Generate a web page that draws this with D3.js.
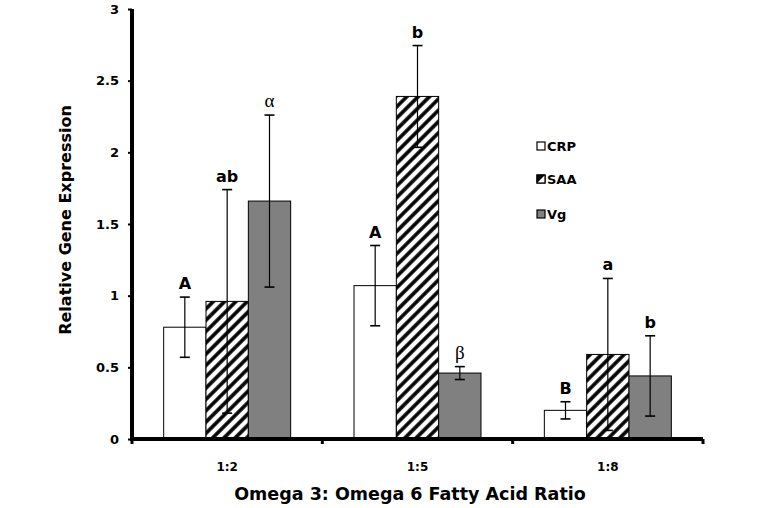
<!DOCTYPE html>
<html><head><meta charset="utf-8">
<script src="https://cdn.jsdelivr.net/npm/d3@7"></script>
<style>body{margin:0;background:#fff}svg{display:block}</style>
</head><body>
<script>
const categories = ["1:2", "1:5", "1:8"];
const seriesNames = ["CRP", "SAA", "Vg"];
const crp = [0.78, 1.07, 0.20];
const saa = [0.96, 2.39, 0.59];
const vg = [1.66, 0.46, 0.44];
const crpErr = [0.21, 0.28, 0.06];
const saaErr = [0.78, 0.355, 0.53];
const vgErr = [0.60, 0.045, 0.28];
const crpLetters = ["A", "A", "B"];
const saaLetters = ["ab", "b", "a"];
const vgLetters = ["α", "β", "b"];
const yTicks = [0, 0.5, 1, 1.5, 2, 2.5, 3];

(function () {
const W = 763, H = 508;
const svg = d3.select("body").append("svg").attr("width", W).attr("height", H);
const defs = svg.append("defs");
const pat = defs.append("pattern").attr("id", "hatch").attr("patternUnits", "userSpaceOnUse")
  .attr("width", 8).attr("height", 8).attr("patternTransform", "rotate(45)");
pat.append("rect").attr("width", 8).attr("height", 8).attr("fill", "#fff");
pat.append("line").attr("x1", 4).attr("y1", 0).attr("x2", 4).attr("y2", 8)
  .attr("stroke", "#000").attr("stroke-width", 3.6);

const mLeft = 132, mRight = 703, mTop = 9, mBottom = 439;
const x = d3.scaleBand().domain(categories).range([mLeft, mRight]).paddingInner(0).paddingOuter(0);
const groupW = 127;
const xs = d3.scaleBand().domain(seriesNames).range([0, groupW]);
const y = d3.scaleLinear().domain([0, 3]).range([mBottom, mTop]);

const fills = {CRP: "#fff", SAA: "url(#hatch)", Vg: "#808080"};
const vals = {CRP: crp, SAA: saa, Vg: vg};
const errs = {CRP: crpErr, SAA: saaErr, Vg: vgErr};
const letters = {CRP: crpLetters, SAA: saaLetters, Vg: vgLetters};

const data = [];
categories.forEach((c, i) => seriesNames.forEach(s => data.push({c, s, v: vals[s][i], e: errs[s][i], l: letters[s][i]})));

const gx = c => x(c) + (x.bandwidth() - groupW) / 2;

svg.selectAll("rect.bar").data(data).enter().append("rect").attr("class", "bar")
  .attr("x", d => gx(d.c) + xs(d.s)).attr("width", xs.bandwidth())
  .attr("y", d => y(d.v)).attr("height", d => y(0) - y(d.v))
  .attr("fill", d => fills[d.s]).attr("stroke", "#000").attr("stroke-width", 1);

const eb = svg.selectAll("g.err").data(data).enter().append("g").attr("class", "err")
  .attr("transform", d => `translate(${gx(d.c) + xs(d.s) + xs.bandwidth() / 2},0)`);
eb.append("line").attr("y1", d => y(d.v + d.e)).attr("y2", d => y(d.v - d.e)).attr("stroke", "#000").attr("stroke-width", 1.2);
eb.append("line").attr("x1", -5).attr("x2", 5).attr("y1", d => y(d.v + d.e)).attr("y2", d => y(d.v + d.e)).attr("stroke", "#000").attr("stroke-width", 1.6);
eb.append("line").attr("x1", -5).attr("x2", 5).attr("y1", d => y(d.v - d.e)).attr("y2", d => y(d.v - d.e)).attr("stroke", "#000").attr("stroke-width", 1.6);
eb.append("text").attr("y", d => y(d.v + d.e) - 8).attr("text-anchor", "middle")
  .attr("font-family", d => (d.l === "α" || d.l === "β") ? "Liberation Serif, serif" : "DejaVu Sans, Verdana, sans-serif")
  .attr("font-weight", d => (d.l === "α" || d.l === "β") ? "normal" : "bold")
  .attr("font-size", d => (d.l === "α" || d.l === "β") ? 19 : 16)
  .text(d => d.l);

// axes
const yAxis = svg.append("g").attr("transform", `translate(${mLeft},0)`)
  .call(d3.axisLeft(y).tickValues(yTicks).tickSize(4).tickPadding(9).tickFormat(d => d));
yAxis.select(".domain").attr("stroke-width", 4).attr("d", `M0,${mTop}V${mBottom + 2}`);
yAxis.selectAll(".tick line").attr("stroke-width", 2);
yAxis.selectAll("text").attr("font-family", "DejaVu Sans, Verdana, sans-serif").attr("font-weight", "bold").attr("font-size", 13);

const xAxis = svg.append("g").attr("transform", `translate(0,${mBottom})`)
  .call(d3.axisBottom(x).tickSize(0).tickPadding(23));
xAxis.select(".domain").attr("stroke-width", 4).attr("d", `M${mLeft},0H${mRight}`);
xAxis.selectAll("text").attr("font-family", "DejaVu Sans, Verdana, sans-serif").attr("font-weight", "bold").attr("font-size", 12);
const bounds = [mLeft, ...categories.map(c => x(c) + x.bandwidth())];
svg.append("g").selectAll("line").data(bounds).enter().append("line")
  .attr("x1", d => d).attr("x2", d => d).attr("y1", mBottom).attr("y2", mBottom + 5)
  .attr("stroke", "#000").attr("stroke-width", 3);

// titles
svg.append("text").attr("transform", "translate(71,220) rotate(-90)").attr("text-anchor", "middle")
  .attr("font-family", "DejaVu Sans, Verdana, sans-serif").attr("font-weight", "bold").attr("font-size", 16)
  .text("Relative Gene Expression");
svg.append("text").attr("x", 410).attr("y", 500).attr("text-anchor", "middle")
  .attr("font-family", "DejaVu Sans, Verdana, sans-serif").attr("font-weight", "bold").attr("font-size", 17.5)
  .text("Omega 3: Omega 6 Fatty Acid Ratio");

// legend
const legY = [146, 179, 214];
const lg = svg.selectAll("g.leg").data(seriesNames).enter().append("g").attr("class", "leg")
  .attr("transform", (d, i) => `translate(537,${legY[i]})`);
lg.append("rect").attr("x", 0).attr("y", -4).attr("width", 8).attr("height", 8)
  .attr("fill", d => d === "SAA" ? "#000" : fills[d]).attr("stroke", "#000").attr("stroke-width", 1.2);
lg.filter(d => d === "SAA").append("path").attr("d", "M0,4L8,-4V4Z").attr("fill", "#fff");
lg.filter(d => d === "SAA").append("rect").attr("x", 0).attr("y", -4).attr("width", 8).attr("height", 8)
  .attr("fill", "none").attr("stroke", "#000").attr("stroke-width", 1.2);
lg.append("text").attr("x", 10).attr("y", 5).attr("font-family", "DejaVu Sans, Verdana, sans-serif")
  .attr("font-weight", "bold").attr("font-size", 13).text(d => d);
})();
</script>
</body></html>
